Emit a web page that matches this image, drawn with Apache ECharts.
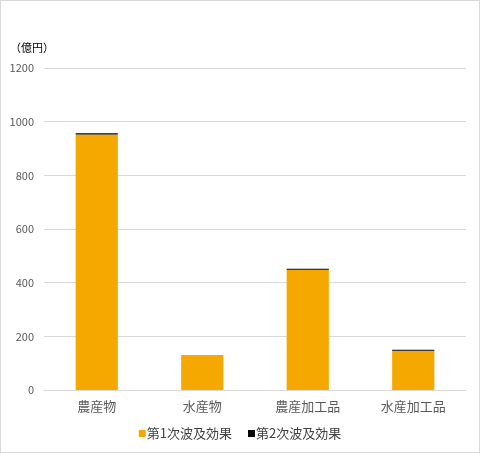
<!DOCTYPE html>
<html>
<head>
<meta charset="utf-8">
<script src="https://cdn.jsdelivr.net/npm/echarts@6/dist/echarts.min.js"></script>
<style>
  html, body { margin: 0; padding: 0; background: #fff; }
  #chart { width: 478px; height: 451px; border: 1px solid #d9d9d9; }
</style>
</head>
<body>
<div id="chart"></div>
<script>
// categories and values (億円)
var categories = ['農産物', '水産物', '農産加工品', '水産加工品'];
var firstWave = [952, 128, 448, 146];
var secondWave = [5, 1, 4, 4];
var yTicks = {min: 0, max: 1200, interval: 200};

var font = '"Noto Sans CJK JP", "Noto Sans", sans-serif';

var myChart = echarts.init(document.getElementById('chart'));
myChart.setOption({
    animation: false,
    textStyle: {fontFamily: font},
    grid: {left: 43, right: 13, top: 67, bottom: 62},
    title: {
        text: '（億円）',
        left: 4,
        top: 36,
        textStyle: {fontSize: 11, fontWeight: 'normal', color: '#000', fontFamily: font}
    },
    legend: {
        bottom: 7,
        left: 'center',
        itemWidth: 7,
        itemHeight: 7,
        itemGap: 16,
        icon: 'rect',
        textStyle: {fontSize: 13, color: '#404040', fontFamily: font, padding: [0, 0, 0, -4]},
        data: ['第1次波及効果', '第2次波及効果']
    },
    xAxis: {
        type: 'category',
        data: categories,
        axisLine: {lineStyle: {color: '#d9d9d9'}},
        axisTick: {show: false},
        axisLabel: {fontSize: 13, color: '#595959', margin: 10, fontFamily: font}
    },
    yAxis: {
        type: 'value',
        min: yTicks.min,
        max: yTicks.max,
        interval: yTicks.interval,
        axisLine: {show: false},
        axisTick: {show: false},
        axisLabel: {
            fontSize: 11, color: '#595959', margin: 10, fontFamily: font,
            formatter: function (v) { return String(v); }
        },
        splitLine: {lineStyle: {color: '#d9d9d9'}}
    },
    series: [{
        name: '第1次波及効果',
        type: 'bar',
        stack: 'total',
        barWidth: '40%',
        itemStyle: {color: '#F5A800'},
        data: firstWave
    }, {
        name: '第2次波及効果',
        type: 'bar',
        stack: 'total',
        barWidth: '40%',
        itemStyle: {color: '#000'},
        data: secondWave
    }]
});
</script>
</body>
</html>
